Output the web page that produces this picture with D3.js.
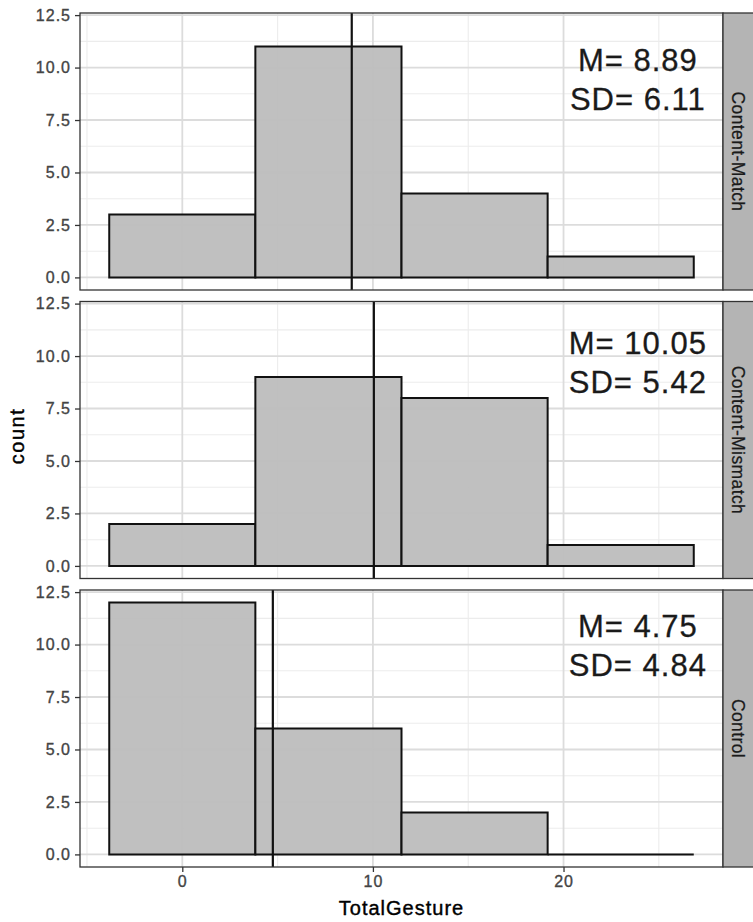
<!DOCTYPE html>
<html>
<head>
<meta charset="utf-8">
<script src="https://cdn.jsdelivr.net/npm/d3@7"></script>
<style>
  html, body { margin: 0; padding: 0; background: #fff; }
  svg { display: block; font-family: "Liberation Sans", Arial, Helvetica, sans-serif; }
</style>
</head>
<body>
<svg id="chart" width="753" height="922"></svg>
<script>
// Facet labels (one histogram row per condition)
const conditions = ["Content-Match", "Content-Mismatch", "Control"];
// Histogram bin edges (4 bins) of TotalGesture
const binEdges = [-3.833, 3.833, 11.5, 19.167, 26.833];
// Counts per bin for each condition
const countsMatch    = [3, 11, 4, 1];
const countsMismatch = [2, 9, 8, 1];
const countsControl  = [12, 6, 2, 0];
// Summary statistics shown as labels and mean lines
const means = [8.89, 10.05, 4.75];
const sds   = [6.11, 5.42, 4.84];
// Label anchor (data units) for the stats text
const labelX = [23.9, 23.9, 23.9];
const labelY = [9.82, 10.08, 10.38];
// Axis ticks
const xTicks = [0, 10, 20];
const xMinor = [-5, 5, 15, 25];
const yTicks = [0, 2.5, 5, 7.5, 10, 12.5];
const yMinor = [1.25, 3.75, 6.25, 8.75, 11.25];

const allCounts = [countsMatch, countsMismatch, countsControl];

const svg = d3.select("#chart");
const panelLeft = 80, panelRight = 723, stripW = 30;
const panelTop0 = 13, panelH = 277, panelGap = 11.5;

const x = d3.scaleLinear().domain([-5.367, 28.367]).range([panelLeft, panelRight]);

const fmt = d3.format(".2f");

conditions.forEach((cond, i) => {
  const top = panelTop0 + i * (panelH + panelGap);
  const bottom = top + panelH;
  const y = d3.scaleLinear().domain([-0.6, 12.6]).range([bottom, top]);
  const g = svg.append("g");

  // panel background
  g.append("rect").attr("x", panelLeft).attr("y", top)
    .attr("width", panelRight - panelLeft).attr("height", panelH).attr("fill", "#fff");

  // minor grid
  g.selectAll(null).data(yMinor).join("line")
    .attr("x1", panelLeft).attr("x2", panelRight)
    .attr("y1", d => y(d)).attr("y2", d => y(d))
    .attr("stroke", "#ececec").attr("stroke-width", 1.1);
  g.selectAll(null).data(xMinor).join("line")
    .attr("y1", top).attr("y2", bottom)
    .attr("x1", d => x(d)).attr("x2", d => x(d))
    .attr("stroke", "#ececec").attr("stroke-width", 1.1);
  // major grid
  g.selectAll(null).data(yTicks).join("line")
    .attr("x1", panelLeft).attr("x2", panelRight)
    .attr("y1", d => y(d)).attr("y2", d => y(d))
    .attr("stroke", "#dcdcdc").attr("stroke-width", 1.8);
  g.selectAll(null).data(xTicks).join("line")
    .attr("y1", top).attr("y2", bottom)
    .attr("x1", d => x(d)).attr("x2", d => x(d))
    .attr("stroke", "#dcdcdc").attr("stroke-width", 1.8);

  // histogram bars (drawn as closed paths so empty bins still show their outline)
  const bins = allCounts[i].map((c, k) => ({ x0: binEdges[k], x1: binEdges[k + 1], count: c }));
  g.selectAll(null).data(bins).join("path")
    .attr("d", d => {
      const p = d3.path();
      p.moveTo(x(d.x0), y(0));
      p.lineTo(x(d.x0), y(d.count));
      p.lineTo(x(d.x1), y(d.count));
      p.lineTo(x(d.x1), y(0));
      p.closePath();
      return p.toString();
    })
    .attr("fill", "#bdbdbd").attr("fill-opacity", 0.95)
    .attr("stroke", "#111").attr("stroke-width", 2);

  // mean line
  g.append("line")
    .attr("x1", x(means[i])).attr("x2", x(means[i]))
    .attr("y1", top).attr("y2", bottom)
    .attr("stroke", "#111").attr("stroke-width", 2.2);

  // stats label
  const t = g.append("text")
    .attr("x", x(labelX[i])).attr("y", y(labelY[i]))
    .attr("text-anchor", "middle").attr("fill", "#1a1a1a")
    .attr("stroke", "#1a1a1a").attr("stroke-width", 0.3)
    .attr("font-size", 31).style("letter-spacing", "1px");
  t.append("tspan").attr("x", x(labelX[i])).text("M= " + fmt(means[i]));
  t.append("tspan").attr("x", x(labelX[i])).attr("dy", 39).text("SD= " + fmt(sds[i]));

  // panel border
  g.append("rect").attr("x", panelLeft).attr("y", top)
    .attr("width", panelRight - panelLeft).attr("height", panelH)
    .attr("fill", "none").attr("stroke", "#333").attr("stroke-width", 1.3);

  // strip
  g.append("rect").attr("x", panelRight).attr("y", top)
    .attr("width", stripW + 2).attr("height", panelH)
    .attr("fill", "#b4b4b4").attr("stroke", "#333").attr("stroke-width", 1.3);
  g.append("text")
    .attr("transform", `translate(${panelRight + stripW / 2 - 6},${(top + bottom) / 2}) rotate(90)`)
    .attr("text-anchor", "middle").attr("fill", "#1a1a1a")
    .attr("stroke", "#1a1a1a").attr("stroke-width", 0.25)
    .attr("font-size", 17.5).style("letter-spacing", "0.4px")
    .text(cond);

  // y axis
  const yAxis = d3.axisLeft(y).tickValues(yTicks).tickFormat(d3.format(".1f"))
    .tickSize(5).tickPadding(4);
  const ya = g.append("g").attr("transform", `translate(${panelLeft},0)`).call(yAxis);
  ya.select(".domain").remove();
  ya.selectAll(".tick line").attr("stroke", "#333").attr("stroke-width", 1.3);
  ya.selectAll(".tick text").attr("fill", "#444").attr("font-size", 16)
    .attr("stroke", "#444").attr("stroke-width", 0.35)
    .attr("font-family", null).style("letter-spacing", "1px");

  // x axis on the bottom panel only
  if (i === conditions.length - 1) {
    const xAxis = d3.axisBottom(x).tickValues(xTicks).tickFormat(d3.format("d"))
      .tickSize(5).tickPadding(4);
    const xa = g.append("g").attr("transform", `translate(0,${bottom})`).call(xAxis);
    xa.select(".domain").remove();
    xa.selectAll(".tick line").attr("stroke", "#333").attr("stroke-width", 1.3);
    xa.selectAll(".tick text").attr("fill", "#444").attr("font-size", 16)
      .attr("stroke", "#444").attr("stroke-width", 0.35)
      .attr("font-family", null).style("letter-spacing", "1px");
  }
});

// axis titles
const lastBottom = panelTop0 + 3 * panelH + 2 * panelGap;
svg.append("text")
  .attr("x", (panelLeft + panelRight) / 2).attr("y", 915)
  .attr("text-anchor", "middle").attr("fill", "#000")
  .attr("stroke", "#000").attr("stroke-width", 0.4)
  .attr("font-size", 20).style("letter-spacing", "1px")
  .text("TotalGesture");
svg.append("text")
  .attr("transform", `translate(24,${(panelTop0 + lastBottom) / 2 - 4}) rotate(-90)`)
  .attr("text-anchor", "middle").attr("fill", "#000")
  .attr("stroke", "#000").attr("stroke-width", 0.4)
  .attr("font-size", 20).style("letter-spacing", "1.5px")
  .text("count");
</script>
</body>
</html>
